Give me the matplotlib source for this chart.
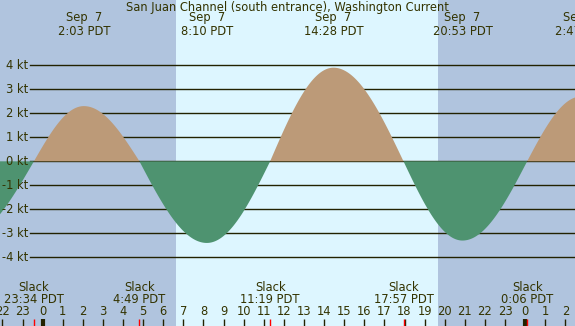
import numpy as np
import matplotlib
matplotlib.use('Agg')
import matplotlib.pyplot as plt
import matplotlib.transforms as mtransforms

# San Juan Channel (south entrance) - tidal current, Sep 7
# tider i timer fra midnat Sep 7 (negative = Sep 6, >24 = Sep 8)

# events: tid, fart (kt); 0 = slack
event_t = [-3.92, -26/60, 2 + 3/60, 4 + 49/60, 8 + 10/60, 11 + 19/60,
           14 + 28/60, 17 + 57/60, 20 + 53/60, 24 + 6/60, 26 + 47/60]
event_v = [-3.2, 0.0, 2.3, 0.0, -3.4, 0.0, 3.9, 0.0, -3.3, 0.0, 2.7]

# labels top (max/min) and bottom (slack)
peak_t = [2 + 3/60, 8 + 10/60, 14 + 28/60, 20 + 53/60, 26 + 47/60]
peak_day = ['Sep  7', 'Sep  7', 'Sep  7', 'Sep  7', 'Sep  8']
peak_lbl = ['2:03 PDT', '8:10 PDT', '14:28 PDT', '20:53 PDT', '2:47 PDT']
slack_t = [-26/60, 4 + 49/60, 11 + 19/60, 17 + 57/60, 24 + 6/60]
slack_lbl = ['23:34 PDT', '4:49 PDT', '11:19 PDT', '17:57 PDT', '0:06 PDT']

sunrise = 6 + 38/60
sunset = 19 + 40/60
kt_levels = [4, 3, 2, 1, 0, -1, -2, -3, -4]

x0, x1 = -2.12, 26.48
y0, y1 = -6.86, 6.72

txt = '#333300'
night = '#B0C4DE'
day = '#DDF6FF'
flood = '#BC9A78'
ebb = '#4E9370'
fs = 8.3


def current(t):
    # kvart-sinus mellem slack og max/min
    out = np.zeros_like(t)
    for k in range(len(event_t) - 1):
        ta, tb = event_t[k], event_t[k + 1]
        va, vb = event_v[k], event_v[k + 1]
        m = (t >= ta) & (t <= tb)
        s = (t[m] - ta) / (tb - ta)
        if va == 0:
            out[m] = vb * np.sin(np.pi / 2 * s)
        else:
            out[m] = va * np.cos(np.pi / 2 * s)
    return out


t = np.linspace(x0, x1, 3000)
v = current(t)

fig = plt.figure(figsize=(5.75, 3.26), dpi=100)
ax = fig.add_axes([0, 0, 1, 1])
ax.set_xlim(x0, x1)
ax.set_ylim(y0, y1)
ax.axis('off')

ax.axvspan(x0, sunrise, color=night, zorder=0, lw=0)
ax.axvspan(sunrise, sunset, color=day, zorder=0, lw=0)
ax.axvspan(sunset, x1, color=night, zorder=0, lw=0)

for lv in kt_levels:
    ax.axhline(lv, xmin=30/575, xmax=1, color='#222200', lw=1, zorder=1)
    ax.text(28/575, lv, f'{lv} kt', transform=ax.get_yaxis_transform(),
            ha='right', va='center', fontsize=fs, color=txt, zorder=5)

ax.fill_between(t, 0, v, where=v >= 0, color=flood, lw=0, zorder=2)
ax.fill_between(t, 0, v, where=v <= 0, color=ebb, lw=0, zorder=2)

trans = mtransforms.blended_transform_factory(ax.transData, ax.transAxes)
ax.text(0.5, 1 - 7/326, 'San Juan Channel (south entrance), Washington Current',
        transform=ax.transAxes, ha='center', va='center', fontsize=fs, color=txt)
for tt, d, l in zip(peak_t, peak_day, peak_lbl):
    ax.text(tt, 1 - 17/326, d, transform=trans, ha='center', va='center',
            fontsize=fs, color=txt)
    ax.text(tt, 1 - 31.5/326, l, transform=trans, ha='center', va='center',
            fontsize=fs, color=txt)
for tt, l in zip(slack_t, slack_lbl):
    ax.text(tt, 1 - 287.3/326, 'Slack', transform=trans, ha='center', va='center',
            fontsize=fs, color=txt)
    ax.text(tt, 1 - 299.3/326, l, transform=trans, ha='center', va='center',
            fontsize=fs, color=txt)

# timer langs bunden
for h in range(-2, 27):
    ax.text(h, 1 - 311.7/326, str(h % 24), transform=trans, ha='center',
            va='center', fontsize=fs, color=txt)
    lw = 3 if h % 24 == 0 else 1
    ax.plot([h, h], [0, 7/326], transform=trans, color='#222200', lw=lw,
            solid_capstyle='butt', zorder=3)
for tt in slack_t:
    ax.plot([tt, tt], [0, 7/326], transform=trans, color='red', lw=1,
            solid_capstyle='butt', zorder=4)

fig.savefig('out.png', dpi=100)
